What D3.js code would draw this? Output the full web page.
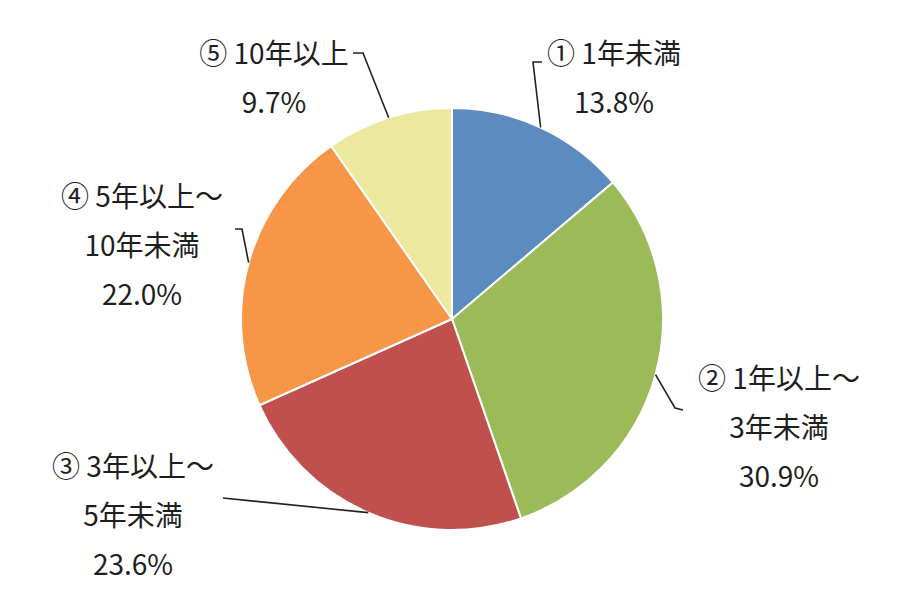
<!DOCTYPE html>
<html>
<head>
<meta charset="utf-8">
<script src="https://cdn.jsdelivr.net/npm/d3@7"></script>
<style>
  body { margin: 0; background: #fff; }
  text { font-family: "Noto Sans CJK JP", "Noto Sans", sans-serif; fill: #1e1e1e; }
</style>
</head>
<body>
<div id="chart"></div>
<script>
// Data
const categories = ['① 1年未満', '② 1年以上～\n3年未満', '③ 3年以上～\n5年未満', '④ 5年以上～\n10年未満', '⑤ 10年以上'];
const shares = [13.8, 30.9, 23.6, 22.0, 9.7];
const colors = ['#5b8bbf', '#9bbb59', '#c0504d', '#f79646', '#ece89e'];

// Label layout: text centre x, first line y, leader elbow and tail
const labelLayout = [
    { x: 614, y: 52, elbow: [533, 62], tail: [542, 62] },
    { x: 779, y: 377, elbow: [675, 408], tail: [683, 410] },
    { x: 133, y: 465, elbow: [223, 498], tail: [223, 498] },
    { x: 142, y: 195, elbow: [242, 229], tail: [235, 229] },
    { x: 274, y: 52, elbow: [363, 53], tail: [353, 53] }
];

const dimensions = {
    width: 900,
    height: 600,
    cx: 452,
    cy: 319,
    radius: 211,
    lineHeight: 49
}

const svg = d3.select('#chart')
    .append('svg')
    .attr('width', dimensions.width)
    .attr('height', dimensions.height);

const pie = d3.pie().sort(null).value(d => d)
const arcs = pie(shares)

const arc = d3.arc().innerRadius(0).outerRadius(dimensions.radius)
const edge = d3.arc().innerRadius(dimensions.radius).outerRadius(dimensions.radius)

const container = svg.append('g')
    .attr('transform', `translate(${dimensions.cx}, ${dimensions.cy})`)

container.selectAll('path')
    .data(arcs)
    .join('path')
    .attr('d', arc)
    .attr('fill', (d, i) => colors[i])
    .attr('stroke', '#fff')
    .attr('stroke-width', 2)

// Leader lines
svg.append('g').selectAll('polyline')
    .data(arcs)
    .join('polyline')
    .attr('points', (d, i) => {
        const [ex, ey] = edge.centroid(d)
        const l = labelLayout[i]
        return [[ex + dimensions.cx, ey + dimensions.cy], l.elbow, l.tail].map(p => p.join(',')).join(' ')
    })
    .attr('fill', 'none')
    .attr('stroke', '#222')
    .attr('stroke-width', 1.6)

// Labels
const labels = svg.append('g').selectAll('text')
    .data(arcs)
    .join('text')
    .attr('text-anchor', 'middle')
    .attr('font-size', 28)

labels.each(function (d, i) {
    const l = labelLayout[i]
    const lines = categories[i].split('\n').concat([d3.format('.1f')(shares[i]) + '%'])
    d3.select(this).selectAll('tspan')
        .data(lines)
        .join('tspan')
        .attr('x', l.x)
        .attr('y', (t, j) => l.y + j * dimensions.lineHeight)
        .attr('dominant-baseline', 'central')
        .text(t => t)
})
</script>
</body>
</html>
